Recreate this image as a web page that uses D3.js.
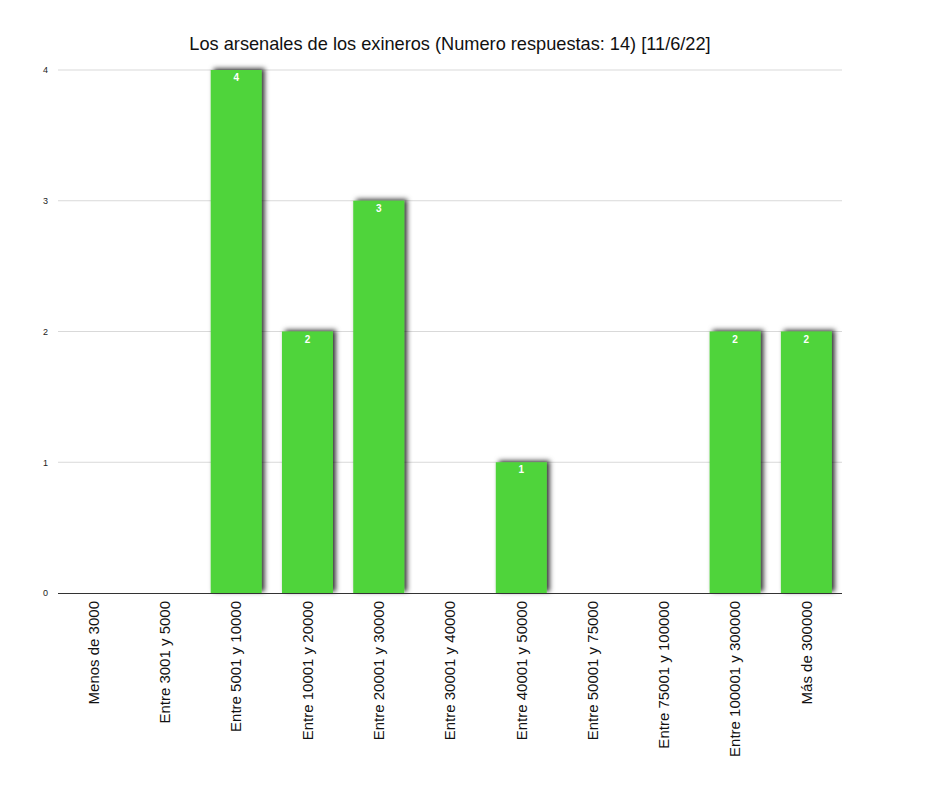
<!DOCTYPE html>
<html><head><meta charset="utf-8">
<script src="https://cdn.jsdelivr.net/npm/d3@7"></script>
<style>body{margin:0;background:#fff;font-family:"Liberation Sans",Arial,sans-serif}</style>
</head><body>
<script>
const title = "Los arsenales de los exineros (Numero respuestas: 14) [11/6/22]";
const categories = ["Menos de 3000","Entre 3001 y 5000","Entre 5001 y 10000","Entre 10001 y 20000","Entre 20001 y 30000","Entre 30001 y 40000","Entre 40001 y 50000","Entre 50001 y 75000","Entre 75001 y 100000","Entre 100001 y 300000","Más de 300000"];
const values = [0,0,4,2,3,0,1,0,0,2,2];
const yTicks = [0,1,2,3,4];

const W=926,H=800, m={l:58,r:84,t:70,b:207};
const svg=d3.select("body").append("svg").attr("width",W).attr("height",H);
const defs=svg.append("defs");
const f=defs.append("filter").attr("id","sh").attr("x","-20%").attr("y","-20%").attr("width","150%").attr("height","140%");
f.append("feDropShadow").attr("dx",3).attr("dy",-1.5).attr("stdDeviation",2.5).attr("flood-color","#000").attr("flood-opacity",0.8);

const x=d3.scaleBand().domain(categories).range([m.l,W-m.r]).paddingInner(0.285).paddingOuter(0.1425);
const y=d3.scaleLinear().domain([0,4]).range([H-m.b,m.t]);

svg.append("text").attr("x",450).attr("y",50).attr("text-anchor","middle").attr("font-size",18.2).attr("fill","#111").text(title);

const g=svg.append("g");
g.selectAll("line.grid").data(yTicks.filter(d=>d>0)).join("line").attr("class","grid")
 .attr("x1",m.l).attr("x2",W-m.r).attr("y1",d=>y(d)).attr("y2",d=>y(d)).attr("stroke","#d9d9d9").attr("stroke-width",1);
const yAxis=svg.append("g").attr("transform",`translate(${m.l},0)`).call(d3.axisLeft(y).tickValues(yTicks).tickSize(0).tickPadding(10).tickFormat(d3.format("d")));
yAxis.select(".domain").remove();
yAxis.selectAll("text").attr("font-size",9).attr("fill","#222").attr("font-family","Liberation Sans, Arial, sans-serif");

const bars=values.map((v,i)=>({c:categories[i],v})).filter(d=>d.v>0);
svg.append("g").selectAll("rect").data(bars).join("rect")
 .attr("x",d=>x(d.c)).attr("width",x.bandwidth()).attr("y",d=>y(d.v)).attr("height",d=>y(0)-y(d.v))
 .attr("fill","#4fd43b").attr("filter","url(#sh)");
svg.append("g").selectAll("text").data(bars).join("text")
 .attr("x",d=>x(d.c)+x.bandwidth()/2).attr("y",d=>y(d.v)+11).attr("text-anchor","middle")
 .attr("font-size",10).attr("font-weight","bold").attr("fill","#fff").text(d=>d.v);

const xAxis=svg.append("g").attr("transform",`translate(0,${y(0)})`).call(d3.axisBottom(x).tickSize(0).tickPadding(0));
xAxis.select(".domain").attr("stroke","#333").attr("stroke-width",1.2).attr("d",`M${m.l},0.5H${W-m.r}`);
xAxis.selectAll("text").attr("font-size",15).attr("fill","#111").attr("font-family","Liberation Sans, Arial, sans-serif")
 .attr("transform","rotate(-90)").attr("text-anchor","end").attr("x",-8).attr("y",0).attr("dy","0.35em");
</script>
</body></html>
